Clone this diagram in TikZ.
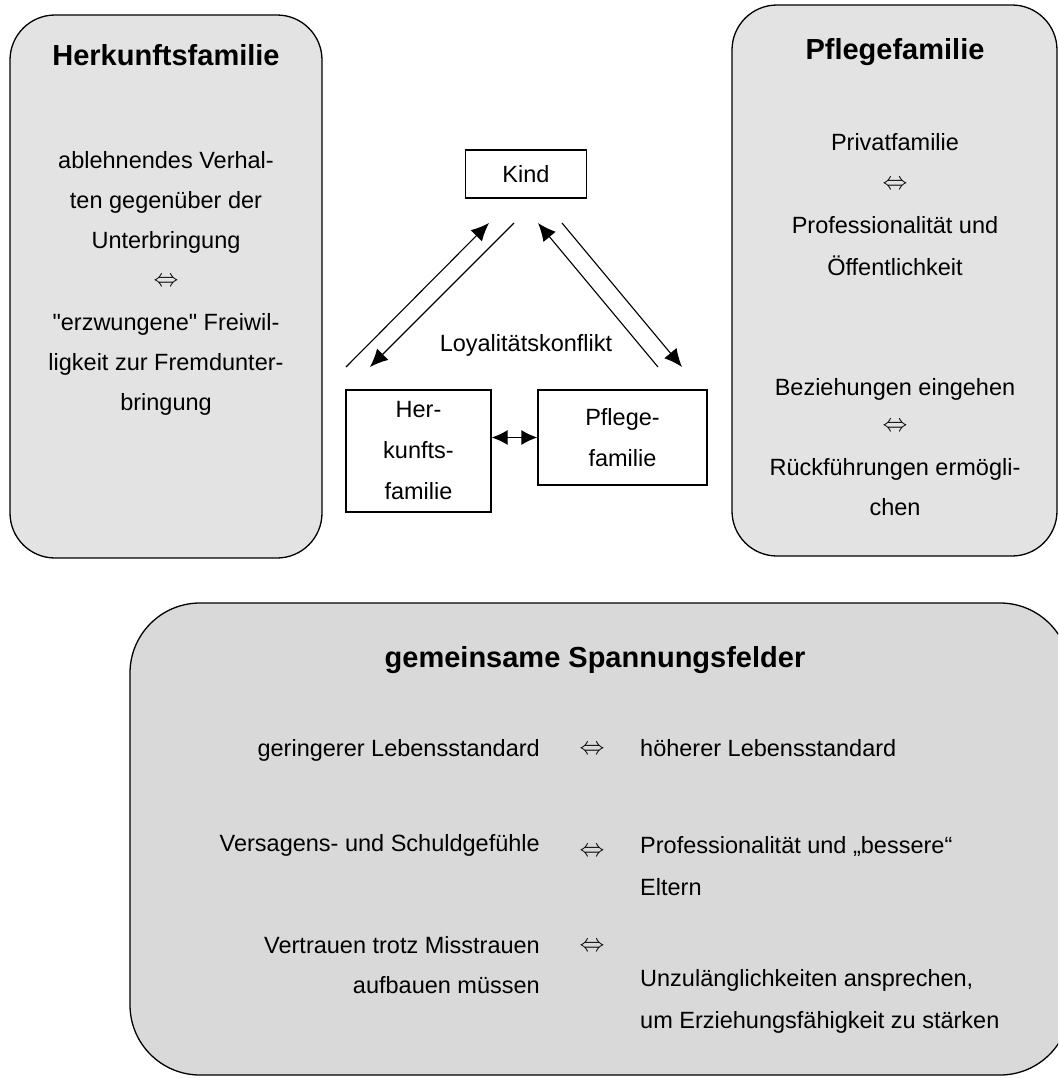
\documentclass[tikz,border=0pt]{standalone}
\usepackage{fontspec}
\setmainfont{Liberation Sans}[Ligatures=TeXOff]
\usetikzlibrary{arrows.meta}
\begin{document}
\begin{tikzpicture}[x=1pt,y=-1pt,
  txt/.style={font=\fontsize{23.5}{28}\selectfont, inner sep=0pt, text height=17pt, text depth=5pt},
  ttl/.style={font=\fontsize{29}{34}\selectfont\bfseries, inner sep=0pt, text height=21pt, text depth=6pt},
  eq/.style={font=\fontsize{23}{28}\selectfont, inner sep=0pt},
  panel/.style={draw=black, line width=1.3pt, fill=#1},
  smallbox/.style={draw, line width=1.3pt, inner sep=0pt, align=center, font=\fontsize{23.5}{41}\selectfont},
  conn/.style={line width=1.1pt, -{Latex[length=18pt,width=16pt]}},
  dconn/.style={line width=1.3pt, {Latex[length=16pt,width=15pt]}-{Latex[length=16pt,width=15pt]}}
]
\useasboundingbox (0,0) rectangle (1058,1079);
\clip (0,0) rectangle (1058,1079);

% panels
\draw[panel={black!11}, rounded corners=45pt] (10,15) rectangle (322,558);
\draw[panel={black!11}, rounded corners=45pt] (732,5) rectangle (1057,556);
\draw[panel={black!15}, rounded corners=70pt] (130,603) rectangle (1070,1075);

% left panel text
\node[ttl] (lt) at (166,58) {Herkunftsfamilie};
\node[txt] (l1) at (166,162) {ablehnendes Verhal-};
\node[txt] (l2) at (166,202) {ten gegenüber der};
\node[txt] (l3) at (166,242) {Unterbringung};
\node[eq]  (l4) at (166,282) {$\Leftrightarrow$};
\node[txt] (l5) at (166,324) {"erzwungene" Freiwil-};
\node[txt] (l6) at (166,364) {ligkeit zur Fremdunter-};
\node[txt] (l7) at (166,404) {bringung};

% right panel text
\node[ttl] (rt) at (895,52) {Pflegefamilie};
\node[txt] (r1) at (895,144) {Privatfamilie};
\node[eq]  (r2) at (895,185) {$\Leftrightarrow$};
\node[txt] (r3) at (895,227) {Professionalität und};
\node[txt] (r4) at (895,269) {Öffentlichkeit};
\node[txt] (r5) at (895,389) {Beziehungen eingehen};
\node[eq]  (r6) at (895,427) {$\Leftrightarrow$};
\node[txt] (r7) at (895,469) {Rückführungen ermögli-};
\node[txt] (r8) at (895,509) {chen};

% centre triangle
\node[smallbox, minimum width=121pt, minimum height=48pt] (kind) at (526,174) {Kind};
\node[smallbox, minimum width=145pt, minimum height=122pt] (her) at (418.5,451) {Her-\\kunfts-\\familie};
\node[smallbox, minimum width=169pt, minimum height=95pt] (pfl) at (622.5,437.5) {Pflege-\\familie};
\node[txt] (loy) at (526,345) {Loyalitätskonflikt};

\coordinate (a1s) at (346,367); \coordinate (a1e) at (489,223);
\coordinate (a2s) at (514,223); \coordinate (a2e) at (370,367);
\coordinate (a3s) at (658,367); \coordinate (a3e) at (538,223);
\coordinate (a4s) at (562,223); \coordinate (a4e) at (682,367);
\draw[conn] (a1s) -- (a1e);
\draw[conn] (a2s) -- (a2e);
\draw[conn] (a3s) -- (a3e);
\draw[conn] (a4s) -- (a4e);
\draw[dconn] (her.east |- pfl.west) -- (pfl.west);

% bottom panel text
\node[ttl] (bt) at (595,660) {gemeinsame Spannungsfelder};
\node[txt, anchor=east] (b1l) at (540,750) {geringerer Lebensstandard};
\node[eq] (b1m) at (592,750) {$\Leftrightarrow$};
\node[txt, anchor=west] (b1r) at (640,750) {höherer Lebensstandard};
\node[txt, anchor=east] (b2l) at (540,845) {Versagens- und Schuldgefühle};
\node[eq] (b2m) at (592,852) {$\Leftrightarrow$};
\node[txt, anchor=west] (b2r) at (640,847) {Professionalität und „bessere“};
\node[txt, anchor=west] (b2s) at (640,889) {Eltern};
\node[txt, anchor=east] (b3l) at (540,947) {Vertrauen trotz Misstrauen};
\node[txt, anchor=east] (b3s) at (540,987) {aufbauen müssen};
\node[eq] (b3m) at (592,947) {$\Leftrightarrow$};
\node[txt, anchor=west] (b3r) at (640,980) {Unzulänglichkeiten ansprechen,};
\node[txt, anchor=west] (b3t) at (640,1022) {um Erziehungsfähigkeit zu stärken};
\end{tikzpicture}
\end{document}
